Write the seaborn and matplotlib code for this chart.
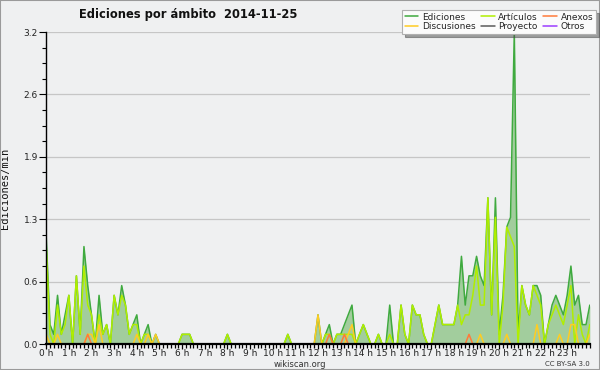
import matplotlib
matplotlib.use('Agg')
import matplotlib.pyplot as plt
import seaborn as sns
import pandas as pd
from matplotlib.ticker import FixedLocator, MultipleLocator, FormatStrFormatter
from matplotlib.patches import Rectangle

# edits per minute, one value every 10 minutes, from 0:00 to 24:00 (145 points)
ediciones = [
    1.1, 0.2, 0.1, 0.5, 0.1, 0.3,  0.5, 0.0, 0.7, 0.1, 1.0, 0.6,   # 0h-1h
    0.3, 0.0, 0.5, 0.1, 0.2, 0.0,  0.5, 0.3, 0.6, 0.4, 0.1, 0.2,   # 2h-3h
    0.3, 0.0, 0.1, 0.2, 0.0, 0.1,  0.0, 0.0, 0.0, 0.0, 0.0, 0.0,   # 4h-5h
    0.1, 0.1, 0.1, 0.0, 0.0, 0.0,  0.0, 0.0, 0.0, 0.0, 0.0, 0.0,   # 6h-7h
    0.1, 0.0, 0.0, 0.0, 0.0, 0.0,  0.0, 0.0, 0.0, 0.0, 0.0, 0.0,   # 8h-9h
    0.0, 0.0, 0.0, 0.0, 0.1, 0.0,  0.0, 0.0, 0.0, 0.0, 0.0, 0.0,   # 10h-11h
    0.3, 0.0, 0.1, 0.2, 0.0, 0.1,  0.1, 0.2, 0.3, 0.4, 0.0, 0.1,   # 12h-13h
    0.2, 0.1, 0.0, 0.0, 0.1, 0.0,  0.0, 0.4, 0.0, 0.0, 0.4, 0.1,   # 14h-15h
    0.0, 0.4, 0.3, 0.3, 0.1, 0.0,  0.0, 0.2, 0.4, 0.2, 0.2, 0.2,   # 16h-17h
    0.2, 0.4, 0.9, 0.4, 0.7, 0.7,  0.9, 0.7, 0.6, 1.5, 0.3, 1.5,   # 18h-19h
    0.1, 0.5, 1.2, 1.3, 3.2, 0.1,  0.6, 0.4, 0.3, 0.6, 0.6, 0.5,   # 20h-21h
    0.0, 0.2, 0.4, 0.5, 0.4, 0.3,  0.5, 0.8, 0.4, 0.5, 0.2, 0.2,   # 22h-23h
    0.4,
]
articulos = [
    1.0, 0.1, 0.0, 0.4, 0.1, 0.2,  0.5, 0.0, 0.7, 0.1, 0.8, 0.4,
    0.3, 0.0, 0.3, 0.1, 0.2, 0.0,  0.5, 0.3, 0.5, 0.4, 0.1, 0.2,
    0.2, 0.0, 0.1, 0.1, 0.0, 0.0,  0.0, 0.0, 0.0, 0.0, 0.0, 0.0,
    0.1, 0.1, 0.1, 0.0, 0.0, 0.0,  0.0, 0.0, 0.0, 0.0, 0.0, 0.0,
    0.1, 0.0, 0.0, 0.0, 0.0, 0.0,  0.0, 0.0, 0.0, 0.0, 0.0, 0.0,
    0.0, 0.0, 0.0, 0.0, 0.1, 0.0,  0.0, 0.0, 0.0, 0.0, 0.0, 0.0,
    0.0, 0.0, 0.1, 0.1, 0.0, 0.1,  0.1, 0.1, 0.1, 0.1, 0.0, 0.1,
    0.2, 0.1, 0.0, 0.0, 0.1, 0.0,  0.0, 0.1, 0.0, 0.0, 0.4, 0.1,
    0.0, 0.4, 0.3, 0.3, 0.1, 0.0,  0.0, 0.2, 0.4, 0.2, 0.2, 0.2,
    0.2, 0.4, 0.2, 0.3, 0.3, 0.5,  0.8, 0.4, 0.4, 1.5, 0.3, 1.3,
    0.0, 0.4, 1.2, 1.1, 1.0, 0.0,  0.6, 0.4, 0.3, 0.6, 0.5, 0.4,
    0.0, 0.2, 0.3, 0.4, 0.3, 0.2,  0.4, 0.6, 0.0, 0.3, 0.1, 0.0,
    0.2,
]
anexos = [
    0.0, 0.0, 0.0, 0.0, 0.0, 0.0,  0.0, 0.0, 0.0, 0.0, 0.0, 0.1,
    0.0, 0.0, 0.0, 0.0, 0.0, 0.0,  0.0, 0.0, 0.0, 0.0, 0.0, 0.0,
    0.0, 0.0, 0.0, 0.0, 0.0, 0.0,  0.0, 0.0, 0.0, 0.0, 0.0, 0.0,
    0.0, 0.0, 0.0, 0.0, 0.0, 0.0,  0.0, 0.0, 0.0, 0.0, 0.0, 0.0,
    0.0, 0.0, 0.0, 0.0, 0.0, 0.0,  0.0, 0.0, 0.0, 0.0, 0.0, 0.0,
    0.0, 0.0, 0.0, 0.0, 0.0, 0.0,  0.0, 0.0, 0.0, 0.0, 0.0, 0.0,
    0.0, 0.0, 0.0, 0.1, 0.0, 0.0,  0.0, 0.1, 0.0, 0.0, 0.0, 0.0,
    0.0, 0.0, 0.0, 0.0, 0.0, 0.0,  0.0, 0.0, 0.0, 0.0, 0.0, 0.0,
    0.0, 0.0, 0.0, 0.0, 0.0, 0.0,  0.0, 0.0, 0.0, 0.0, 0.0, 0.0,
    0.0, 0.0, 0.0, 0.0, 0.1, 0.0,  0.0, 0.0, 0.0, 0.0, 0.0, 0.0,
    0.0, 0.0, 0.0, 0.0, 0.0, 0.0,  0.0, 0.0, 0.0, 0.0, 0.0, 0.0,
    0.0, 0.0, 0.0, 0.0, 0.0, 0.0,  0.0, 0.0, 0.0, 0.0, 0.0, 0.0,
    0.0,
]
discusiones = [
    0.1, 0.0, 0.0, 0.1, 0.0, 0.0,  0.0, 0.0, 0.0, 0.0, 0.0, 0.1,
    0.1, 0.0, 0.2, 0.0, 0.0, 0.0,  0.0, 0.0, 0.0, 0.0, 0.0, 0.0,
    0.1, 0.0, 0.0, 0.1, 0.0, 0.1,  0.0, 0.0, 0.0, 0.0, 0.0, 0.0,
    0.0, 0.0, 0.0, 0.0, 0.0, 0.0,  0.0, 0.0, 0.0, 0.0, 0.0, 0.0,
    0.0, 0.0, 0.0, 0.0, 0.0, 0.0,  0.0, 0.0, 0.0, 0.0, 0.0, 0.0,
    0.0, 0.0, 0.0, 0.0, 0.0, 0.0,  0.0, 0.0, 0.0, 0.0, 0.0, 0.0,
    0.3, 0.0, 0.0, 0.0, 0.0, 0.0,  0.0, 0.0, 0.1, 0.2, 0.0, 0.0,
    0.0, 0.0, 0.0, 0.0, 0.0, 0.0,  0.0, 0.0, 0.0, 0.0, 0.0, 0.0,
    0.0, 0.0, 0.0, 0.0, 0.0, 0.0,  0.0, 0.0, 0.0, 0.0, 0.0, 0.0,
    0.0, 0.0, 0.0, 0.0, 0.0, 0.0,  0.0, 0.1, 0.0, 0.0, 0.0, 0.0,
    0.0, 0.0, 0.1, 0.0, 0.0, 0.0,  0.0, 0.0, 0.0, 0.0, 0.2, 0.0,
    0.0, 0.0, 0.0, 0.0, 0.1, 0.0,  0.0, 0.2, 0.2, 0.0, 0.0, 0.0,
    0.1,
]
proyecto = [0.0] * 145
otros = [0.0] * 145

hours = [i / 6 for i in range(145)]
hour_labels = ['%d h' % h for h in range(24)]
y_ticks = [0.0, 0.64, 1.28, 1.92, 2.56, 3.2]

BG = '#eff0f1'


def main():
    sns.set_theme(style='white')
    plt.rcParams['font.family'] = ['DejaVu Sans']

    df = pd.DataFrame({'hora': hours, 'Ediciones': ediciones, 'Artículos': articulos,
                       'Anexos': anexos, 'Discusiones': discusiones,
                       'Proyecto': proyecto, 'Otros': otros})

    fig, ax = plt.subplots(figsize=(6, 3.7), dpi=100)
    fig.patch.set_facecolor(BG)
    ax.set_facecolor(BG)
    fig.subplots_adjust(left=0.077, right=0.983, bottom=0.07, top=0.9135)

    ax.fill_between(df['hora'], df['Ediciones'], color='#a2cd9d', lw=0, zorder=1)

    series = [('Otros', '#9b3dff'), ('Proyecto', '#5a5a5a'), ('Ediciones', '#3faa3f'),
              ('Artículos', '#b0ee00'), ('Discusiones', '#ffcc22'), ('Anexos', '#ff7a3a')]
    for name, color in series:
        sns.lineplot(data=df, x='hora', y=name, color=color, lw=1.1, ax=ax, label=name)

    handles, labels = ax.get_legend_handles_labels()
    ax.get_legend().remove()
    order = ['Ediciones', 'Discusiones', 'Artículos', 'Proyecto', 'Anexos', 'Otros']
    hmap = dict(zip(labels, handles))
    leg = fig.legend([hmap[k] for k in order], order, loc='upper right',
                     bbox_to_anchor=(0.996, 0.978), ncol=3, fontsize=6.5,
                     frameon=True, shadow=True, fancybox=False,
                     handlelength=1.5, handletextpad=0.4, columnspacing=0.6,
                     labelspacing=0.05, borderpad=0.3, borderaxespad=0.2)
    leg.get_frame().set_facecolor('#fbfbfb')
    leg.get_frame().set_edgecolor('#b0b0b0')
    leg.get_frame().set_linewidth(0.8)

    ax.set_xlim(0, 24)
    ax.set_ylim(0, 3.2)
    ax.xaxis.set_major_locator(FixedLocator(range(24)))
    ax.set_xticklabels(hour_labels)
    ax.xaxis.set_minor_locator(MultipleLocator(1 / 6))
    ax.yaxis.set_major_locator(FixedLocator(y_ticks))
    ax.yaxis.set_major_formatter(FormatStrFormatter('%.1f'))
    ax.yaxis.set_minor_locator(MultipleLocator(0.16))

    ax.grid(axis='y', which='major', color='#c6c6c6', lw=0.9)
    ax.grid(axis='x', visible=False)
    ax.set_axisbelow(True)

    ax.tick_params(axis='both', which='both', direction='out', color='black',
                   labelsize=6.5, labelcolor='#222222')
    ax.tick_params(axis='y', which='major', length=5, width=0.8, pad=1, left=True)
    ax.tick_params(axis='y', which='minor', length=3, width=0.8, left=True)
    ax.tick_params(axis='x', which='major', length=3.5, width=0.9, pad=0, bottom=True)
    ax.tick_params(axis='x', which='minor', length=3, width=0.9, bottom=True)

    for side in ['top', 'right']:
        ax.spines[side].set_visible(False)
    ax.spines['left'].set_color('black')
    ax.spines['left'].set_linewidth(1.0)
    ax.spines['bottom'].set_color('black')
    ax.spines['bottom'].set_linewidth(1.6)

    ax.set_xlabel('')
    ax.set_ylabel('Ediciones/min', family='DejaVu Sans Mono', fontsize=7.5, color='#111111')
    ax.yaxis.set_label_coords(-0.066, 0.5)

    fig.text(0.313, 0.962, 'Ediciones por ámbito  2014-11-25', ha='center', va='center',
             fontsize=8.3, fontweight='bold', color='#111111')
    fig.text(0.5, 0.016, 'wikiscan.org', ha='center', va='center', fontsize=6, color='#333333')
    fig.text(0.983, 0.016, 'CC BY-SA 3.0', ha='right', va='center', fontsize=5, color='#333333')

    fig.add_artist(Rectangle((0, 0), 1, 1, transform=fig.transFigure, fill=False,
                             edgecolor='#9a9a9a', lw=1.5))

    fig.savefig('out.png', dpi=100, facecolor=BG)


if __name__ == '__main__':
    main()
